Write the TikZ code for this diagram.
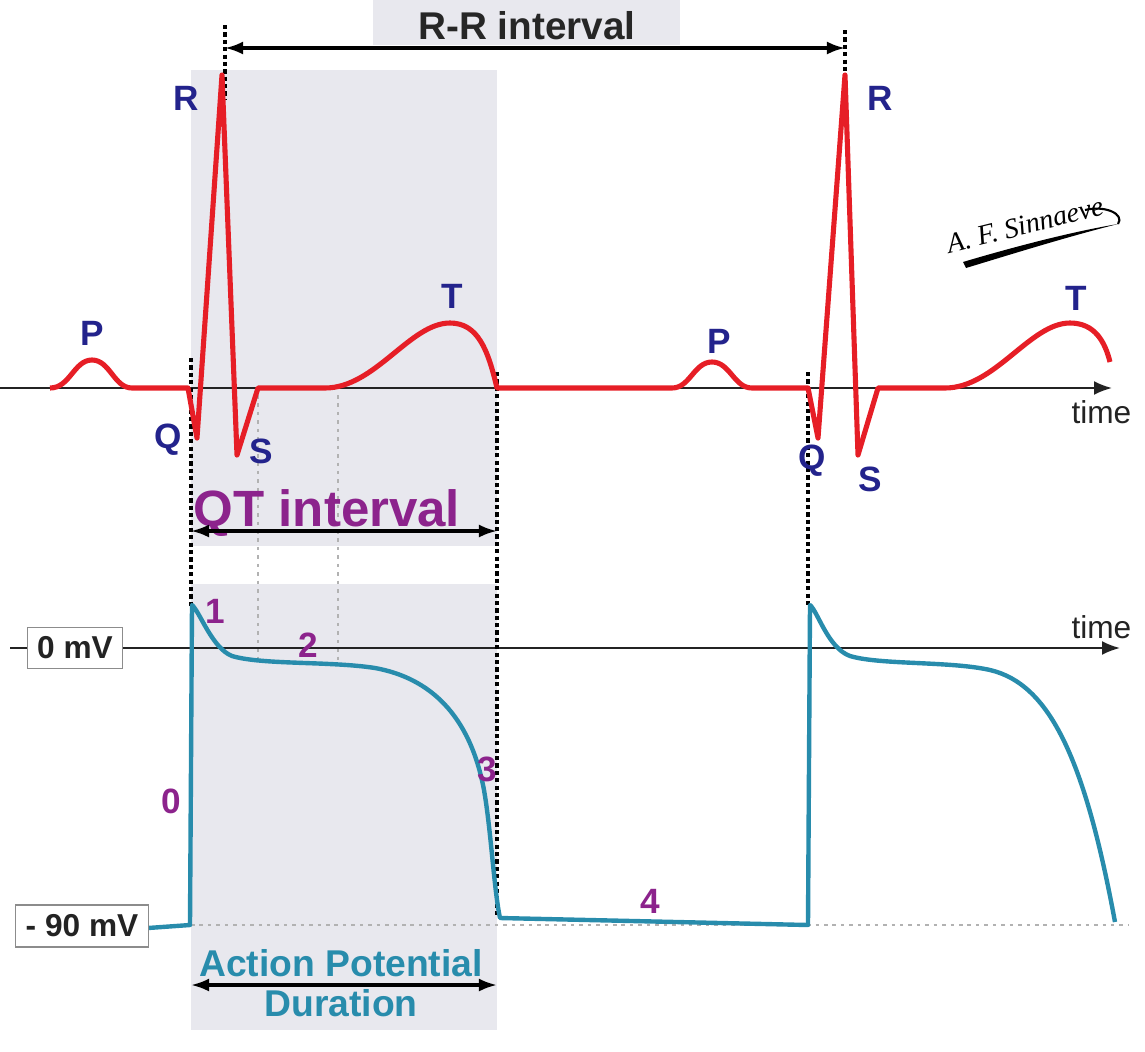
\documentclass[tikz,border=0pt]{standalone}
\usepackage{fontspec}
\setmainfont{Liberation Sans}
\newfontfamily\signfont{Liberation Serif}
\usetikzlibrary{arrows.meta, positioning}
\definecolor{ecgred}{RGB}{230, 30, 38}
\definecolor{wavenavy}{RGB}{35, 35, 140}
\definecolor{phasepurple}{RGB}{140, 35, 140}
\definecolor{apteal}{RGB}{40, 140, 172}
\definecolor{shadegray}{RGB}{232, 232, 238}
\definecolor{axisgray}{RGB}{35, 35, 35}
\tikzstyle{wavelabel} = [font=\fontsize{10}{10}\selectfont\bfseries, text=wavenavy, inner sep=0pt]
\tikzstyle{phaselabel} = [font=\fontsize{10}{10}\selectfont\bfseries, text=phasepurple, inner sep=0pt]
\tikzstyle{mvbox} = [draw=black!45, fill=white, font=\fontsize{9}{9}\selectfont\bfseries, text=axisgray, inner sep=0pt, minimum height=0.41cm]
\tikzstyle{timelabel} = [font=\fontsize{9}{9}\selectfont, text=axisgray, inner sep=0pt]
\tikzstyle{ecg} = [ecgred, line width=1.45pt, line join=round]
\tikzstyle{ap} = [apteal, line width=1.25pt, line join=round]
\tikzstyle{axis} = [-{Latex[length=1.8mm, width=1.4mm]}, axisgray, line width=0.6pt]
\tikzstyle{dimarrow} = [{Latex[length=1.8mm, width=1.3mm]}-{Latex[length=1.8mm, width=1.3mm]}, black, line width=0.9pt]
\tikzstyle{marker} = [black, line width=1.1pt, dash pattern=on 1.2pt off 0.9pt]
\tikzstyle{guide} = [black!30, line width=0.6pt, dash pattern=on 1pt off 1.4pt]

\begin{document}
\begin{tikzpicture}[x=0.01cm, y=-0.01cm]
\useasboundingbox (0,0) rectangle (1145,1051);

% Shading
\fill[shadegray] (373,0) rectangle (680,45);
\fill[shadegray] (191,70) rectangle (497,1030);
\fill[white] (191,546) rectangle (497,584);

% Points
\coordinate (rr1) at (225,48);
\coordinate (rr2) at (845,48);
\coordinate (qt1) at (191,531);
\coordinate (qt2) at (497,531);
\coordinate (apd1) at (191,985);
\coordinate (apd2) at (497,985);
\coordinate (ecg0) at (0,388);
\coordinate (ecgend) at (1112,388);
\coordinate (mv0) at (10,648);
\coordinate (mvend) at (1120,648);

% Guides
\draw[guide] (258,395) -- (258,665);
\draw[guide] (338,395) -- (338,665);
\draw[guide] (191,925) -- (1128,925);

% Axes
\draw[axis] (ecg0) -- (ecgend);
\draw[axis] (mv0) -- (mvend);
\node[timelabel, anchor=north east] (time1) at (1132,400) {time};
\node[timelabel, anchor=south east] (time2) at (1132,640) {time};

% Markers
\draw[marker] (225,25) -- (225,100);
\draw[marker] (845,30) -- (845,100);
\draw[marker] (191,358) -- (191,606);
\draw[marker] (497,372) -- (497,918);
\draw[marker] (808,372) -- (808,606);

% ECG trace
\draw[ecg] (50,388) .. controls (70,388) and (74,360) .. (92,360)
  .. controls (110,360) and (114,388) .. (132,388) -- (188,388)
  -- (197,438) -- (222,75) -- (237,455) -- (258,388) -- (325,388)
  .. controls (375,388) and (410,323) .. (450,323)
  .. controls (478,323) and (488,350) .. (497,388) -- (672,388)
  .. controls (690,388) and (694,362) .. (712,362)
  .. controls (730,362) and (734,388) .. (752,388) -- (808,388)
  -- (818,438) -- (845,75) -- (858,455) -- (878,388) -- (945,388)
  .. controls (995,388) and (1030,323) .. (1070,323)
  .. controls (1095,323) and (1105,342) .. (1110,362);

% Action potential trace
\draw[ap] (148,928) -- (190,925) -- (192,605)
  .. controls (200,612) and (212,648) .. (232,656)
  .. controls (262,665) and (330,661) .. (375,668)
  .. controls (430,678) and (470,715) .. (484,790)
  .. controls (491,830) and (494,890) .. (500,918) -- (808,925) -- (810,605)
  .. controls (818,612) and (828,648) .. (850,656)
  .. controls (880,665) and (950,661) .. (990,670)
  .. controls (1050,684) and (1085,760) .. (1115,922);

% Wave labels
\node[wavelabel] (p1) at (92,333) {P};
\node[wavelabel] (q1) at (168,440) {Q};
\node[wavelabel] (r1) at (186,98) {R};
\node[wavelabel] (s1) at (261,451) {S};
\node[wavelabel] (t1) at (452,296) {T};
\node[wavelabel] (p2) at (719,341) {P};
\node[wavelabel] (q2) at (812,461) {Q};
\node[wavelabel] (r2) at (880,98) {R};
\node[wavelabel] (s2) at (870,479) {S};
\node[wavelabel] (t2) at (1076,298) {T};

% Phase labels
\node[phaselabel] (ph0) at (171,801) {0};
\node[phaselabel] (ph1) at (215,611) {1};
\node[phaselabel] (ph2) at (308,645) {2};
\node[phaselabel] (ph3) at (487,769) {3};
\node[phaselabel] (ph4) at (650,901) {4};

% Voltage boxes
\node[mvbox, minimum width=0.95cm] (zero) at (75,648) {0 mV};
\node[mvbox, minimum width=1.33cm, minimum height=0.42cm] (rest) at (82,926) {- 90 mV};

% Intervals
\node[font=\fontsize{11}{11}\selectfont\bfseries, text=black!85] (rrtext) at (527,26) {R-R interval};
\draw[dimarrow] (rr1) -- (rr2);
\node[font=\fontsize{14.5}{15}\selectfont\bfseries, text=phasepurple, anchor=base] (qttext) at (327,526) {QT interval};
\draw[dimarrow] (qt1) -- (qt2);
\node[font=\fontsize{10.6}{11}\selectfont\bfseries, text=apteal, anchor=base] (apdtext) at (341,976) {Action Potential};
\node[font=\fontsize{10.6}{11}\selectfont\bfseries, text=apteal, anchor=base] (durtext) at (341,1016) {Duration};
\draw[dimarrow] (apd1) -- (apd2);

% Signature
\node[font=\signfont\itshape\fontsize{8}{8}\selectfont, rotate=14] (sign) at (1025,225) {A. F. Sinnaeve};
\fill[black] (963,262) .. controls (1010,248) and (1070,232) .. (1118,224)
  .. controls (1070,236) and (1012,254) .. (966,268) -- cycle;
\draw[black, line width=0.6pt] (1085,210) .. controls (1105,205) and (1125,214) .. (1118,224);

\end{tikzpicture}
\end{document}
